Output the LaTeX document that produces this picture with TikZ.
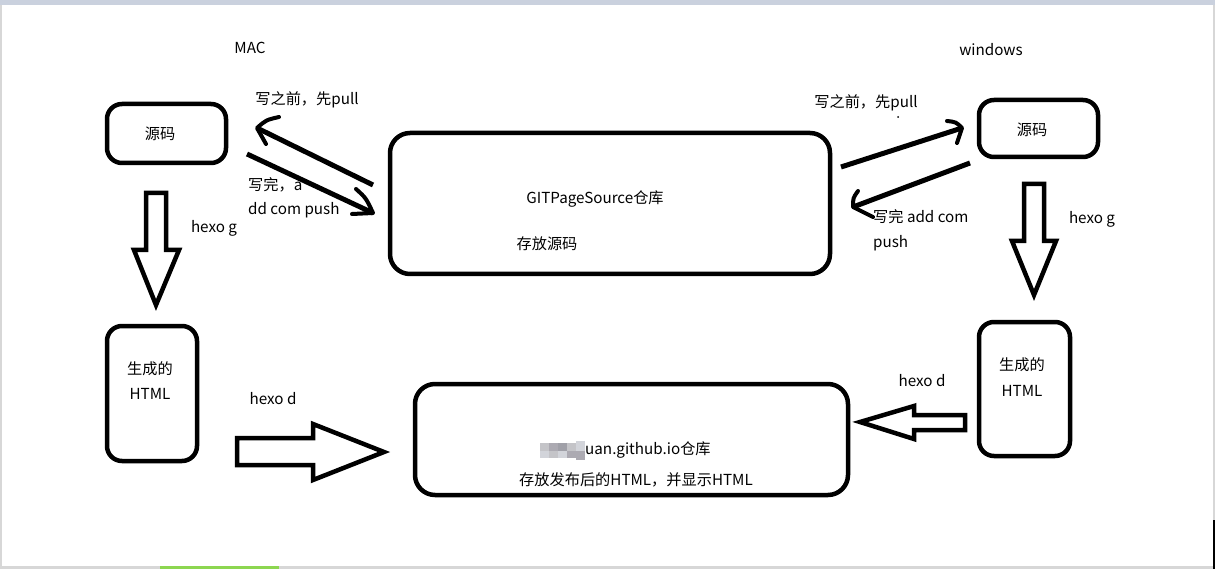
\documentclass[tikz,border=0pt]{standalone}
\usepackage{fontspec}
\setmainfont{Noto Sans CJK SC}
\definecolor{topbar}{RGB}{202,209,222}
\definecolor{edgegray}{RGB}{215,215,215}
\definecolor{taskgreen}{RGB}{140,214,80}
\definecolor{blurA}{RGB}{196,196,200}
\definecolor{blurB}{RGB}{172,170,178}
\definecolor{blurC}{RGB}{210,212,218}
\definecolor{blurD}{RGB}{160,160,168}
\begin{document}
\begin{tikzpicture}[x=1pt,y=-1pt,
  box/.style={draw=black, line width=4.5pt, rounded corners=15pt, inner sep=0pt, outer sep=0pt},
  bigbox/.style={box, rounded corners=20pt},
  lbl/.style={inner sep=0pt, font=\fontsize{15.2}{17}\selectfont, text=black},
  hollow/.style={draw=black, line width=4.5pt, line join=miter, fill=white},
  flow/.style={draw=black, line width=5pt, line cap=butt},
  tipline/.style={draw=black, line width=4pt, line cap=round, line join=round}]

\useasboundingbox (0,0) rectangle (1215,569);
\fill[white] (0,0) rectangle (1215,569);
% screenshot edges
\fill[topbar] (0,0) rectangle (1215,5);
\fill[edgegray] (0,5) rectangle (1.5,569);
\fill[edgegray] (1213,5) rectangle (1215,569);
\fill[edgegray] (0,566) rectangle (1215,569);
\fill[taskgreen] (160,566) rectangle (279,569);
\fill[black] (1213,520) rectangle (1215,569);

% boxes
\node[box, minimum width=119pt, minimum height=59pt] (srcL) at (166.5,133.5) {};
\node[box, minimum width=90pt, minimum height=135pt] (htmlL) at (152,393.5) {};
\node[bigbox, minimum width=440pt, minimum height=141pt] (repoS) at (610,203.5) {};
\node[bigbox, minimum width=433pt, minimum height=111pt] (repoP) at (631.5,439.5) {};
\node[box, minimum width=119pt, minimum height=57pt] (srcR) at (1038.5,128.5) {};
\node[box, minimum width=91pt, minimum height=134pt] (htmlR) at (1024.5,389) {};

% hollow arrows
\draw[hollow] (146,193) -- (166,193) -- (166,250) -- (179,250) -- (156,305) -- (134,250) -- (146,250) -- cycle;
\draw[hollow] (1024,184) -- (1044,184) -- (1044,241) -- (1056,241) -- (1034,295) -- (1012,241) -- (1024,241) -- cycle;
\draw[hollow] (237,438) -- (313,438) -- (313,424) -- (384,452) -- (313,480) -- (313,465) -- (237,465) -- cycle;
\draw[hollow] (965,415) -- (914,415) -- (914,406) -- (860,422) -- (914,439) -- (914,430) -- (965,430) -- cycle;

% sync arrows (left)
\coordinate (l1s) at (373,185); \coordinate (l1e) at (257,128);
\coordinate (l2s) at (247,154); \coordinate (l2e) at (373,213);
\draw[flow] (l1s) -- (l1e);
\draw[tipline] (279,117) .. controls (266,120) .. (257,128) -- (266,144);
\draw[flow] (l2s) -- (l2e);
\draw[tipline] (356,189) .. controls (366,198) .. (373,213) -- (352,214);
% sync arrows (right)
\coordinate (r1s) at (841,167); \coordinate (r1e) at (962,128);
\coordinate (r2s) at (970,163); \coordinate (r2e) at (853,207);
\draw[flow] (r1s) -- (r1e);
\draw[tipline] (947,121) .. controls (956,122) .. (962,128) -- (957,143);
\draw[flow] (r2s) -- (r2e);
\draw[tipline] (858,191) .. controls (853,198) .. (853,207) -- (873,217);
\fill[black] (898,117) circle (1);

% labels
\node[lbl] (mac) at (250,48) {MAC};
\node[lbl] (win) at (991,50) {windows};
\node[lbl] (pullL) at (307,100) {写之前，先pull};
\node[lbl] (pullR) at (866,103) {写之前，先pull};
\node[lbl] (srcLt) at (160,134) {源码};
\node[lbl] (srcRt) at (1032,130) {源码};
\node[lbl, anchor=west] (pushL1) at (248,185) {写完，a};
\node[lbl, anchor=west] (pushL2) at (248,210) {dd com push};
\node[lbl, anchor=west] (pushR1) at (873,217) {写完 add com};
\node[lbl, anchor=west] (pushR2) at (873,243) {push};
\node[lbl] (hgL) at (214,228) {hexo g};
\node[lbl] (hgR) at (1092,219) {hexo g};
\node[lbl] (genL) at (150,369) {生成的};
\node[lbl] (htmlLt) at (150,394) {HTML};
\node[lbl] (genR) at (1022,365) {生成的};
\node[lbl] (htmlRt) at (1022,391) {HTML};
\node[lbl] (hdL) at (273,399) {hexo d};
\node[lbl] (hdR) at (922,381) {hexo d};
\node[lbl] (repoSt) at (595,199) {GITPageSource仓库};
\node[lbl] (repoSd) at (547,244) {存放源码};
% blurred part of the repository name
\fill[blurA] (540,443) rectangle (549,451);
\fill[blurC] (540,451) rectangle (549,458);
\fill[blurB] (549,443) rectangle (558,451);
\fill[blurA] (549,451) rectangle (558,458);
\fill[blurD] (558,443) rectangle (567,451);
\fill[blurC] (558,451) rectangle (567,458);
\fill[blurA] (567,443) rectangle (576,451);
\fill[blurB] (567,451) rectangle (576,458);
\fill[blurC] (576,441) rectangle (585,451);
\fill[blurB] (576,451) rectangle (585,460);
\node[lbl, anchor=west] (repoPt) at (585,450) {uan.github.io仓库};
\node[lbl] (repoPd) at (636,480) {存放发布后的HTML，并显示HTML};
\end{tikzpicture}
\end{document}
